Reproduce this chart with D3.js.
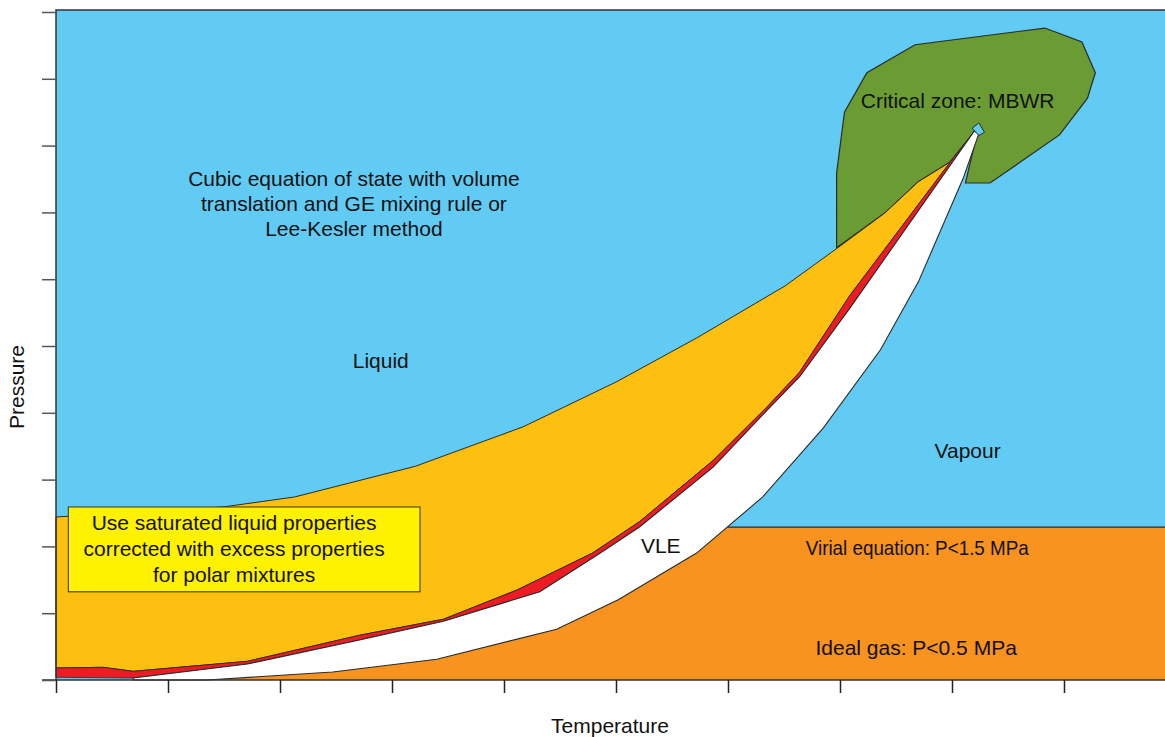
<!DOCTYPE html>
<html><head><meta charset="utf-8">
<script src="https://cdn.jsdelivr.net/npm/d3@7"></script>
<style>body{margin:0;background:#fff;} text{font-family:"Liberation Sans",Arial,sans-serif;}</style>
</head><body>
<svg id="chart" width="1165" height="737"></svg>
<script>
// ---- data (temperature, pressure in arbitrary axis units) ----
const xTicks = [0,1,2,3,4,5,6,7,8,9];
const yTicks = [0,1,2,3,4,5,6,7,8,9,10];
// liquid / cubic-EOS boundary (top of gold region)
const liquidLine = [[0,2.44],[1.49,2.59],[2.13,2.74],[3.21,3.20],[4.17,3.79],[5.00,4.46],[5.72,5.12],[6.51,5.90],[6.98,6.47],[7.40,6.99],[7.70,7.46],[7.98,7.75],[8.21,8.22]];
// top of red band
const redTop = [[0,0.18],[0.42,0.19],[0.69,0.13],[1.71,0.28],[2.71,0.67],[3.46,0.91],[4.12,1.35],[4.79,1.90],[5.21,2.37],[5.87,3.29],[6.35,4.09],[6.64,4.61],[7.09,5.76],[8.01,7.81],[8.21,8.23]];
// bubble line (bottom of red band / top of VLE)
const bubbleLine = [[0,0.04],[0.69,0.03],[1.71,0.24],[2.71,0.60],[3.46,0.88],[4.32,1.32],[4.86,1.90],[5.21,2.29],[5.87,3.19],[6.35,4.04],[6.64,4.54],[7.09,5.57],[8.20,8.22]];
// dew line (bottom of VLE)
const dewLine = [[0.69,0],[1.35,0],[2.47,0.12],[3.40,0.31],[4.47,0.76],[5.02,1.20],[5.72,1.90],[6.31,2.74],[6.85,3.77],[7.36,4.94],[7.70,5.96],[8.10,7.51],[8.24,8.18]];
// virial limit (P < 1.5 MPa)
const virialLine = [[6.00,2.29],[9.91,2.29]];
// critical zone outline
const criticalZone = [[6.97,6.47],[6.97,7.59],[7.04,8.50],[7.24,9.09],[7.67,9.51],[8.83,9.76],[9.16,9.55],[9.28,9.09],[9.21,8.71],[8.96,8.16],[8.34,7.44],[8.12,7.44],[8.24,8.29],[7.98,7.75],[7.70,7.46],[7.40,6.99]];
// critical point marker
const criticalPoint = [[8.18,8.26],[8.24,8.34],[8.29,8.20],[8.24,8.15]];
const regionLabels = [
  {t:["Cubic equation of state with volume","translation and GE mixing rule or","Lee-Kesler method"], x:2.66, y:7.14},
  {t:["Liquid"], x:2.90, y:4.79},
  {t:["Vapour"], x:8.14, y:3.44},
  {t:["Critical zone: MBWR"], x:8.05, y:8.67},
  {t:["VLE"], x:5.40, y:2.02},
  {t:["Virial equation: P<1.5 MPa"], x:7.69, y:1.98, len:223},
  {t:["Ideal gas: P<0.5 MPa"], x:7.68, y:0.48}
];
const boxLines = ["Use saturated liquid properties","corrected with excess properties","for polar mixtures"];
const boxRect = {x0:0.11, x1:3.25, y0:1.32, y1:2.59, textX:1.59};

// ---- scales ----
const svg = d3.select("#chart");
const x = d3.scaleLinear().domain([0, 9.902]).range([56, 1165]);
const y = d3.scaleLinear().domain([0, 10.03]).range([680, 10]);
const line = d3.line().x(d=>x(d[0])).y(d=>y(d[1]));
const poly = pts => line(pts) + "Z";
const xmax = 9.902, ymax = 10.03;
const FS = 21;

const C = {blue:"#62CBF4", gold:"#FDC010", red:"#ED1C24", orange:"#F7931E", green:"#6A9C33", white:"#FFFFFF", yellow:"#FFF200", stroke:"#2a2a2a"};

// background
svg.append("path").attr("d", poly([[0,0],[0,ymax],[xmax,ymax],[xmax,0]])).attr("fill", C.blue);

// critical zone
svg.append("path").attr("d", poly(criticalZone)).attr("fill", C.green).attr("stroke", C.stroke).attr("stroke-width",1.2);

// orange gas region
const dewBelow = dewLine.filter(d => d[1] < virialLine[0][1]);
svg.append("path").attr("d", poly([[0,0]].concat(dewBelow, virialLine, [[xmax,0]])))
  .attr("fill", C.orange).attr("stroke","none");
svg.append("path").attr("d", line(virialLine)).attr("fill","none").attr("stroke",C.stroke).attr("stroke-width",1.2);

// gold region
svg.append("path").attr("d", poly(liquidLine.concat(redTop.slice().reverse())))
  .attr("fill", C.gold).attr("stroke", C.stroke).attr("stroke-width",1);
// red band
svg.append("path").attr("d", poly(redTop.concat(bubbleLine.slice().reverse())))
  .attr("fill", C.red).attr("stroke", C.stroke).attr("stroke-width",0.8);
// VLE white region
svg.append("path").attr("d", poly(bubbleLine.slice(1).concat(dewLine.slice().reverse())))
  .attr("fill", C.white).attr("stroke", C.stroke).attr("stroke-width",1.1);
// critical point marker
svg.append("path").attr("d", poly(criticalPoint)).attr("fill", C.blue).attr("stroke", C.stroke).attr("stroke-width",1);

// frame
svg.append("path").attr("d", line([[0,0],[0,ymax],[xmax,ymax]])).attr("fill","none").attr("stroke","#333").attr("stroke-width",1.5);

// axes
const xAxis = d3.axisBottom(x).tickValues(xTicks).tickSize(13).tickFormat("");
const gx = svg.append("g").attr("transform",`translate(0,${y(0)})`).call(xAxis);
gx.select(".domain").attr("d", `M${x(0)-14},0H1165`).attr("stroke","#333").attr("stroke-width",1.5);
gx.selectAll(".tick line").attr("stroke","#222").attr("stroke-width",1.5);
const yAxis = d3.axisLeft(y).tickValues(yTicks).tickSize(14).tickFormat("");
const gy = svg.append("g").attr("transform",`translate(${x(0)},0)`).call(yAxis);
gy.select(".domain").remove();
gy.selectAll(".tick line").attr("stroke","#555").attr("stroke-width",1.5);

// box
svg.append("rect").attr("x", x(boxRect.x0)).attr("y", y(boxRect.y1))
  .attr("width", x(boxRect.x1)-x(boxRect.x0)).attr("height", y(boxRect.y0)-y(boxRect.y1))
  .attr("fill", C.yellow).attr("stroke", "#333").attr("stroke-width",1);
boxLines.forEach((t,i)=>{
  svg.append("text").attr("x", x(boxRect.textX)).attr("y", y(boxRect.y1)+23.5+i*26).attr("text-anchor","middle")
    .attr("font-size",FS).attr("fill","#111").text(t);
});

// region labels
regionLabels.forEach(l=>{
  const n = l.t.length;
  l.t.forEach((t,i)=>{
    const tx = svg.append("text").attr("x", x(l.x)).attr("y", y(l.y) + (i-(n-1)/2)*25 + 7.5)
      .attr("text-anchor","middle").attr("font-size",FS).attr("fill","#111").text(t);
    if (l.len) tx.attr("textLength", l.len).attr("lengthAdjust","spacingAndGlyphs");
  });
});

// axis titles
svg.append("text").attr("x", 610).attr("y", 733).attr("text-anchor","middle").attr("font-size",FS).attr("fill","#111").text("Temperature");
svg.append("text").attr("transform","translate(24,387) rotate(-90)").attr("text-anchor","middle").attr("font-size",FS).attr("fill","#111").text("Pressure");
</script>
</body></html>
